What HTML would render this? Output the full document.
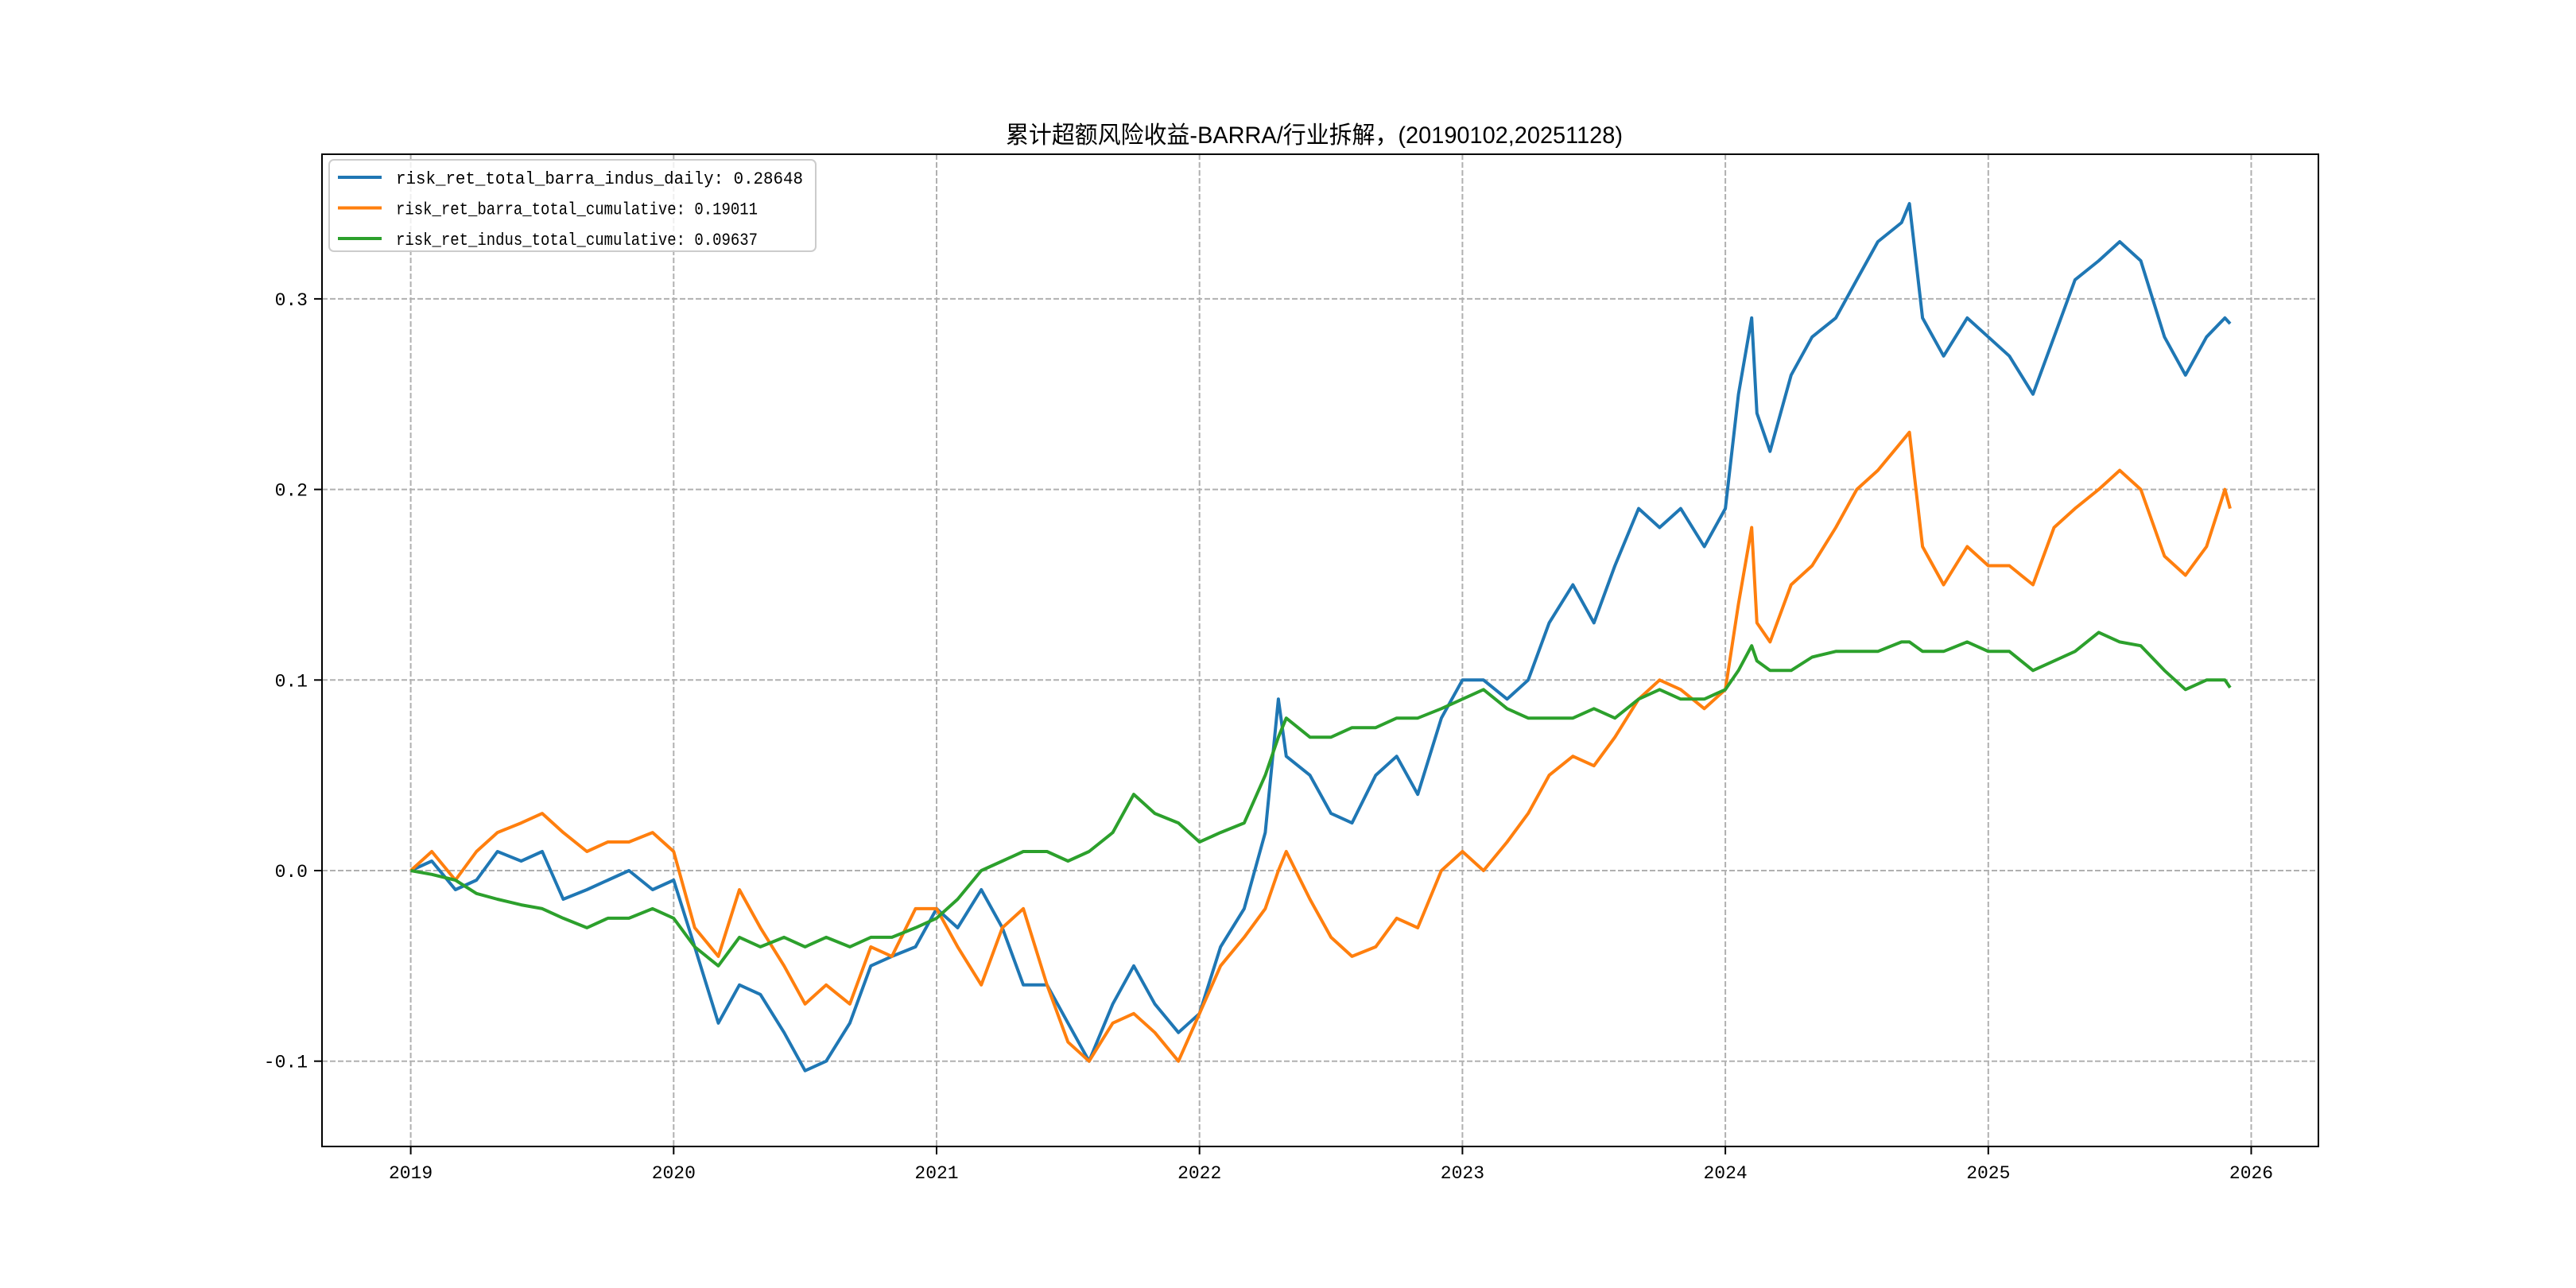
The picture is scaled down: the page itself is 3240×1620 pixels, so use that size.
<!DOCTYPE html>
<html><head><meta charset="utf-8"><style>
html,body{margin:0;padding:0;background:#fff;}
svg{display:block;}
</style></head><body>
<svg id="chart" width="3240" height="1620" xmlns="http://www.w3.org/2000/svg">
<rect width="3240" height="1620" fill="#fff"/>
<text x="1653" y="180" text-anchor="middle" font-family="'Liberation Sans','WenQuanYi Zen Hei',sans-serif" font-size="30" textLength="776" lengthAdjust="spacingAndGlyphs">累计超额风险收益-BARRA/行业拆解，(20190102,20251128)</text>
<g id="grid"></g><g id="series"></g><g id="axes"></g><g id="legend"></g>
</svg>
<script>
const dates=[2019.0,2019.08,2019.17,2019.25,2019.33,2019.42,2019.5,2019.58,2019.67,2019.75,2019.83,2019.92,
2020.0,2020.08,2020.17,2020.25,2020.33,2020.42,2020.5,2020.58,2020.67,2020.75,2020.83,2020.92,
2021.0,2021.08,2021.17,2021.25,2021.33,2021.42,2021.5,2021.58,2021.67,2021.75,2021.83,2021.92,
2022.0,2022.08,2022.17,2022.25,2022.3,2022.33,2022.42,2022.5,2022.58,2022.67,2022.75,2022.83,2022.92,
2023.0,2023.08,2023.17,2023.25,2023.33,2023.42,2023.5,2023.58,2023.67,2023.75,2023.83,2023.92,
2024.0,2024.05,2024.1,2024.12,2024.17,2024.25,2024.33,2024.42,2024.5,2024.58,2024.67,2024.7,2024.75,2024.83,2024.92,
2025.0,2025.08,2025.17,2025.25,2025.33,2025.42,2025.5,2025.58,2025.67,2025.75,2025.83,2025.9,2025.92];
const totalSeries=[0,0.005,-0.01,-0.005,0.01,0.005,0.01,-0.015,-0.01,-0.005,0.0,-0.01,
-0.005,-0.04,-0.08,-0.06,-0.065,-0.085,-0.105,-0.1,-0.08,-0.05,-0.045,-0.04,
-0.02,-0.03,-0.01,-0.03,-0.06,-0.06,-0.08,-0.1,-0.07,-0.05,-0.07,-0.085,
-0.075,-0.04,-0.02,0.02,0.09,0.06,0.05,0.03,0.025,0.05,0.06,0.04,0.08,
0.1,0.1,0.09,0.1,0.13,0.15,0.13,0.16,0.19,0.18,0.19,0.17,
0.19,0.25,0.29,0.24,0.22,0.26,0.28,0.29,0.31,0.33,0.34,0.35,0.29,0.27,0.29,
0.28,0.27,0.25,0.28,0.31,0.32,0.33,0.32,0.28,0.26,0.28,0.29,0.287];
const barraSeries=[0,0.01,-0.005,0.01,0.02,0.025,0.03,0.02,0.01,0.015,0.015,0.02,
0.01,-0.03,-0.045,-0.01,-0.03,-0.05,-0.07,-0.06,-0.07,-0.04,-0.045,-0.02,
-0.02,-0.04,-0.06,-0.03,-0.02,-0.06,-0.09,-0.1,-0.08,-0.075,-0.085,-0.1,
-0.075,-0.05,-0.035,-0.02,0.0,0.01,-0.015,-0.035,-0.045,-0.04,-0.025,-0.03,0.0,
0.01,0.0,0.015,0.03,0.05,0.06,0.055,0.07,0.09,0.1,0.095,0.085,
0.095,0.14,0.18,0.13,0.12,0.15,0.16,0.18,0.2,0.21,0.225,0.23,0.17,0.15,0.17,
0.16,0.16,0.15,0.18,0.19,0.2,0.21,0.2,0.165,0.155,0.17,0.2,0.19];
const indusSeries=[0,-0.002,-0.005,-0.012,-0.015,-0.018,-0.02,-0.025,-0.03,-0.025,-0.025,-0.02,
-0.025,-0.04,-0.05,-0.035,-0.04,-0.035,-0.04,-0.035,-0.04,-0.035,-0.035,-0.03,
-0.025,-0.015,0.0,0.005,0.01,0.01,0.005,0.01,0.02,0.04,0.03,0.025,
0.015,0.02,0.025,0.05,0.07,0.08,0.07,0.07,0.075,0.075,0.08,0.08,0.085,
0.09,0.095,0.085,0.08,0.08,0.08,0.085,0.08,0.09,0.095,0.09,0.09,
0.095,0.105,0.118,0.11,0.105,0.105,0.112,0.115,0.115,0.115,0.12,0.12,0.115,0.115,0.12,
0.115,0.115,0.105,0.11,0.115,0.125,0.12,0.118,0.105,0.095,0.1,0.1,0.096];
const xTickLabels=["2019","2020","2021","2022","2023","2024","2025","2026"];
const xTickValues=[2019,2020,2021,2022,2023,2024,2025,2026];
const yTickValues=[-0.1,0.0,0.1,0.2,0.3];
const yTickLabels=["-0.1","0.0","0.1","0.2","0.3"];
const seriesNames=["risk_ret_total_barra_indus_daily: 0.28648","risk_ret_barra_total_cumulative: 0.19011","risk_ret_indus_total_cumulative: 0.09637"];
const colors=["#1f77b4","#ff7f0e","#2ca02c"];

const L=405,R=2916,T=194,B=1442;
const x=v=>516.6+(v-2019)*330.7;
const y=v=>1095-v*2397;
const NS="http://www.w3.org/2000/svg";
function mk(tag,attrs,parent){const e=document.createElementNS(NS,tag);for(const k in attrs)e.setAttribute(k,attrs[k]);parent.appendChild(e);return e;}
const grid=document.getElementById('grid'),axes=document.getElementById('axes'),ser=document.getElementById('series'),leg=document.getElementById('legend');
const font="'Liberation Mono','WenQuanYi Zen Hei',monospace";
xTickValues.forEach((v,i)=>{
  const g=mk('line',{x1:x(v),x2:x(v),y1:T,y2:B,stroke:'#b0b0b0','stroke-width':2,'stroke-dasharray':'7,3'},grid);
  
  
  mk('line',{x1:x(v),x2:x(v),y1:B,y2:B+10,stroke:'#000','stroke-width':2},axes);
  const t=mk('text',{x:x(v),y:B+40,'text-anchor':'middle','font-family':font,'font-size':23},axes);
  t.textContent=xTickLabels[i];
  
  
});
yTickValues.forEach((v,i)=>{
  const g=mk('line',{x1:L,x2:R,y1:y(v),y2:y(v),stroke:'#b0b0b0','stroke-width':2,'stroke-dasharray':'7,3'},grid);
  
  
  mk('line',{x1:L-10,x2:L,y1:y(v),y2:y(v),stroke:'#000','stroke-width':2},axes);
  const t=mk('text',{x:L-18,y:y(v)+8,'text-anchor':'end','font-family':font,'font-size':23},axes);
  t.textContent=yTickLabels[i];
  
  
});
const frame=mk('rect',{x:L,y:T,width:R-L,height:B-T,fill:'none',stroke:'#000','stroke-width':2},axes);


const allSeries=[totalSeries,barraSeries,indusSeries];
const sNames=['total-series-line','barra-series-line','indus-series-line'];
allSeries.forEach((s,k)=>{
  const d=s.map((v,i)=>(i?'L':'M')+x(dates[i]).toFixed(1)+','+y(v).toFixed(1)).join('');
  const p=mk('path',{d:d,fill:'none',stroke:colors[k],'stroke-width':4,'stroke-linejoin':'round'},ser);
  
  
});
const box=mk('rect',{x:414,y:201,width:612,height:115,rx:6,fill:'#fff','fill-opacity':0.8,stroke:'#ccc','stroke-width':2},leg);


const lens=[512,455,455];
seriesNames.forEach((n,k)=>{
  const yy=223+k*38.5;
  const ln=mk('line',{x1:425,x2:480,y1:yy,y2:yy,stroke:colors[k],'stroke-width':4},leg);
  
  
  const t=mk('text',{x:498,y:yy+8,'font-family':font,'font-size':22,textLength:lens[k],lengthAdjust:'spacingAndGlyphs'},leg);
  t.textContent=n;
  
  
});
</script>
</body></html>
